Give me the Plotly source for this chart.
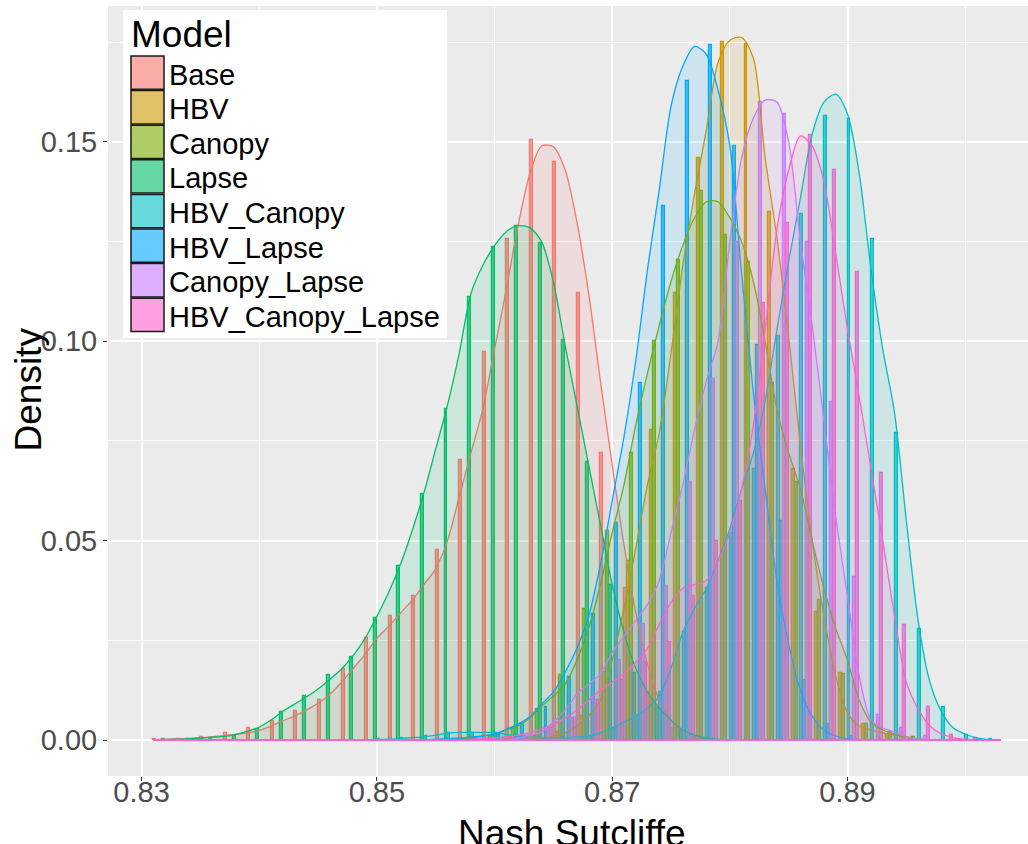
import plotly.graph_objects as go

# ---- data -------------------------------------------------------------
MODELS = ["Base", "HBV", "Canopy", "Lapse", "HBV_Canopy", "HBV_Lapse",
          "Canopy_Lapse", "HBV_Canopy_Lapse"]
COLORS = ["#F8766D", "#CD9600", "#7CAE00", "#00BE67", "#00BFC4", "#00A9FF",
          "#C77CFF", "#FF61CC"]

# histogram bins (width 0.002), centres 0.832 ... 0.902
BIN_WIDTH = 0.002
BIN_CENTERS = [round(0.832 + BIN_WIDTH * i, 3) for i in range(36)]

hist_base = [0.0003, 0.0003, 0.0008, 0.0018, 0.0030, 0.0047, 0.0072, 0.0100, 0.0177, 0.0257,
             0.0311, 0.0360, 0.0477, 0.0703, 0.0974, 0.1257, 0.1505, 0.1450, 0.1120, 0.0719,
             0.0380, 0.0120, 0.0030, 0.0008, 0, 0, 0, 0, 0, 0,
             0, 0, 0, 0, 0, 0]
hist_hbv = [0, 0, 0, 0, 0, 0, 0, 0, 0, 0,
            0, 0, 0, 0, 0, 0.0005, 0.0010, 0.0020, 0.0060, 0.0170,
            0.0450, 0.0778, 0.1120, 0.1460, 0.1750, 0.1745, 0.1325, 0.0680, 0.0320, 0.0168,
            0.0040, 0.0015, 0.0005, 0, 0, 0]
hist_canopy = [0, 0, 0, 0, 0, 0, 0, 0, 0, 0,
               0, 0, 0, 0, 0.0010, 0.0030, 0.0078, 0.0164, 0.0329, 0.0523,
               0.0719, 0.1000, 0.1204, 0.1378, 0.1267, 0.1198, 0.0896, 0.0646, 0.0350, 0.0165,
               0.0040, 0.0020, 0.0008, 0, 0, 0]
hist_lapse = [0.0002, 0.0003, 0.0004, 0.0011, 0.0028, 0.0069, 0.0110, 0.0163, 0.0208, 0.0306,
              0.0437, 0.0616, 0.0830, 0.1110, 0.1236, 0.1289, 0.1247, 0.1004, 0.0697, 0.0390,
              0.0168, 0.0080, 0.0025, 0.0005, 0, 0, 0, 0, 0, 0,
              0, 0, 0, 0, 0, 0]
hist_hbv_canopy = [0, 0, 0, 0, 0, 0, 0, 0, 0, 0.0003,
                   0.0005, 0.0010, 0.0018, 0.0018, 0.0018, 0.0008, 0.0005, 0.0005, 0.0010, 0.0030,
                   0.0060, 0.0120, 0.0270, 0.0380, 0.0520, 0.0680, 0.1014, 0.1320, 0.1564, 0.1558,
                   0.1256, 0.0769, 0.0279, 0.0082, 0.0012, 0.0003]
hist_hbv_lapse = [0, 0, 0, 0, 0, 0, 0, 0, 0, 0,
                  0, 0, 0, 0.0005, 0.0012, 0.0040, 0.0083, 0.0159, 0.0317, 0.0544,
                  0.0896, 0.1340, 0.1653, 0.1743, 0.1490, 0.0990, 0.0550, 0.0150, 0.0040, 0.0010,
                  0, 0, 0, 0, 0, 0]
hist_canopy_lapse = [0, 0, 0, 0, 0, 0, 0, 0, 0, 0,
                     0, 0, 0, 0, 0, 0.0010, 0.0030, 0.0055, 0.0100, 0.0200,
                     0.0290, 0.0386, 0.0646, 0.0906, 0.1250, 0.1600, 0.1570, 0.1250, 0.0848, 0.0410,
                     0.0063, 0.0030, 0.0010, 0, 0, 0]
hist_hbv_canopy_lapse = [0, 0, 0, 0, 0, 0, 0, 0, 0, 0,
                         0, 0, 0, 0, 0.0005, 0.0010, 0.0030, 0.0055, 0.0100, 0.0150,
                         0.0195, 0.0245, 0.0360, 0.0500, 0.0600, 0.1096, 0.1297, 0.1518, 0.1430, 0.1175,
                         0.0670, 0.0289, 0.0084, 0.0012, 0.0005, 0]

# kernel density estimates on a 0.001 grid, 0.831 ... 0.903
DENS_X = [round(0.831 + 0.001 * i, 3) for i in range(73)]

dens_base = [0, 0.0002, 0.0003, 0.0004, 0.0006, 0.0008, 0.0011, 0.0014, 0.0018, 0.0024,
             0.0035, 0.0048, 0.0060, 0.0075, 0.0092, 0.0115, 0.0145, 0.0180, 0.0215, 0.0255,
             0.0285, 0.0318, 0.0350, 0.0390, 0.0430, 0.0500, 0.0610, 0.0720, 0.0830, 0.0980,
             0.1130, 0.1290, 0.1420, 0.1490, 0.1488, 0.1430, 0.1300, 0.1120, 0.0900, 0.0690,
             0.0490, 0.0320, 0.0190, 0.0100, 0.0050, 0.0022, 0.0010, 0.0004, 0.0001, 0,
             0, 0, 0, 0, 0, 0, 0, 0, 0, 0,
             0, 0, 0, 0, 0, 0, 0, 0, 0, 0,
             0, 0, 0]
dens_hbv = [0, 0, 0, 0, 0, 0, 0, 0, 0, 0,
            0, 0, 0, 0, 0, 0, 0, 0, 0, 0,
            0, 0, 0, 0, 0, 0, 0, 0, 0, 0,
            0, 0.0001, 0.0002, 0.0005, 0.0010, 0.0018, 0.0035, 0.0060, 0.0100, 0.0200,
            0.0330, 0.0480, 0.0640, 0.0770, 0.0970, 0.1190, 0.1370, 0.1530, 0.1700, 0.1755,
            0.1762, 0.1710, 0.1460, 0.1260, 0.1010, 0.0740, 0.0500, 0.0310, 0.0160, 0.0068,
            0.0035, 0.0025, 0.0018, 0.0012, 0.0006, 0.0002, 0, 0, 0, 0,
            0, 0, 0]
dens_canopy = [0, 0, 0, 0, 0, 0, 0, 0, 0, 0,
               0, 0, 0, 0, 0, 0, 0, 0, 0, 0,
               0, 0, 0, 0, 0, 0, 0.0002, 0.0005, 0.0010, 0.0015,
               0.0025, 0.0035, 0.0055, 0.0085, 0.0110, 0.0140, 0.0200, 0.0280, 0.0390, 0.0520,
               0.0640, 0.0790, 0.0920, 0.1040, 0.1150, 0.1240, 0.1310, 0.1350, 0.1350, 0.1310,
               0.1250, 0.1150, 0.1000, 0.0830, 0.0720, 0.0630, 0.0500, 0.0380, 0.0280, 0.0200,
               0.0100, 0.0045, 0.0025, 0.0015, 0.0008, 0.0003, 0, 0, 0, 0,
               0, 0, 0]
dens_lapse = [0, 0.0001, 0.0002, 0.0003, 0.0005, 0.0007, 0.0009, 0.0014, 0.0022, 0.0032,
              0.0050, 0.0072, 0.0090, 0.0108, 0.0128, 0.0152, 0.0178, 0.0212, 0.0255, 0.0310,
              0.0370, 0.0440, 0.0525, 0.0620, 0.0730, 0.0840, 0.0970, 0.1120, 0.1190, 0.1240,
              0.1275, 0.1290, 0.1285, 0.1250, 0.1150, 0.0990, 0.0840, 0.0690, 0.0540, 0.0390,
              0.0270, 0.0180, 0.0120, 0.0080, 0.0050, 0.0025, 0.0012, 0.0005, 0.0002, 0,
              0, 0, 0, 0, 0, 0, 0, 0, 0, 0,
              0, 0, 0, 0, 0, 0, 0, 0, 0, 0,
              0, 0, 0]
dens_hbv_canopy = [0, 0, 0, 0, 0, 0, 0, 0, 0, 0,
                   0, 0, 0, 0, 0, 0, 0, 0, 0, 0.0001,
                   0.0002, 0.0004, 0.0006, 0.0008, 0.0012, 0.0017, 0.0019, 0.0019, 0.0019, 0.0019,
                   0.0014, 0.0010, 0.0007, 0.0006, 0.0006, 0.0006, 0.0008, 0.0010, 0.0018, 0.0030,
                   0.0045, 0.0060, 0.0080, 0.0110, 0.0180, 0.0270, 0.0330, 0.0380, 0.0450, 0.0530,
                   0.0630, 0.0720, 0.0850, 0.1030, 0.1200, 0.1360, 0.1520, 0.1600, 0.1620, 0.1570,
                   0.1420, 0.1180, 0.0980, 0.0820, 0.0550, 0.0300, 0.0145, 0.0070, 0.0030, 0.0015,
                   0.0005, 0.0001, 0]
dens_hbv_lapse = [0, 0, 0, 0, 0, 0, 0, 0, 0, 0,
                  0, 0, 0, 0, 0, 0, 0, 0, 0, 0,
                  0, 0, 0, 0, 0.0002, 0.0003, 0.0005, 0.0007, 0.0010, 0.0015,
                  0.0027, 0.0040, 0.0058, 0.0090, 0.0120, 0.0170, 0.0230, 0.0310, 0.0440, 0.0600,
                  0.0760, 0.0950, 0.1180, 0.1380, 0.1590, 0.1690, 0.1740, 0.1720, 0.1630, 0.1490,
                  0.1170, 0.0870, 0.0630, 0.0400, 0.0240, 0.0125, 0.0060, 0.0025, 0.0010, 0.0003,
                  0.0001, 0, 0, 0, 0, 0, 0, 0, 0, 0,
                  0, 0, 0]
dens_canopy_lapse = [0, 0, 0, 0, 0, 0, 0, 0, 0, 0,
                     0, 0, 0, 0, 0, 0, 0, 0, 0, 0,
                     0, 0, 0, 0, 0, 0, 0, 0, 0, 0,
                     0, 0.0005, 0.0012, 0.0020, 0.0045, 0.0075, 0.0115, 0.0140, 0.0165, 0.0220,
                     0.0260, 0.0300, 0.0340, 0.0400, 0.0520, 0.0640, 0.0780, 0.0900, 0.1000, 0.1250,
                     0.1460, 0.1560, 0.1605, 0.1600, 0.1500, 0.1250, 0.1040, 0.0800, 0.0560, 0.0360,
                     0.0160, 0.0050, 0.0030, 0.0020, 0.0008, 0.0002, 0, 0, 0, 0,
                     0, 0, 0]
dens_hbv_canopy_lapse = [0, 0, 0, 0, 0, 0, 0, 0, 0, 0,
                         0, 0, 0, 0, 0, 0, 0, 0, 0, 0,
                         0, 0, 0, 0, 0, 0, 0, 0.0002, 0.0003, 0.0005,
                         0.0008, 0.0012, 0.0018, 0.0028, 0.0040, 0.0055, 0.0075, 0.0100, 0.0125, 0.0145,
                         0.0165, 0.0195, 0.0230, 0.0290, 0.0345, 0.0380, 0.0390, 0.0400, 0.0450, 0.0520,
                         0.0630, 0.0790, 0.1030, 0.1280, 0.1430, 0.1515, 0.1490, 0.1400, 0.1220, 0.1030,
                         0.0860, 0.0680, 0.0500, 0.0310, 0.0145, 0.0078, 0.0035, 0.0015, 0.0006, 0.0002,
                         0, 0, 0]

HISTS = [hist_base, hist_hbv, hist_canopy, hist_lapse, hist_hbv_canopy,
         hist_hbv_lapse, hist_canopy_lapse, hist_hbv_canopy_lapse]
DENSITIES = [dens_base, dens_hbv, dens_canopy, dens_lapse, dens_hbv_canopy,
             dens_hbv_lapse, dens_canopy_lapse, dens_hbv_canopy_lapse]

X_TICKS = [0.83, 0.85, 0.87, 0.89]
Y_TICKS = [0.00, 0.05, 0.10, 0.15]


def rgba(hex_color, alpha):
    h = hex_color.lstrip("#")
    r, g, b = int(h[0:2], 16), int(h[2:4], 16), int(h[4:6], 16)
    return f"rgba({r},{g},{b},{alpha})"


FONT = "Liberation Sans, Arial, sans-serif"
fig = go.Figure()

# dodged histogram bars: eight slots per bin
slot = BIN_WIDTH / len(MODELS)
for k, (name, col, vals) in enumerate(zip(MODELS, COLORS, HISTS)):
    xs = [c for c, v in zip(BIN_CENTERS, vals) if v > 0]
    ys = [v for v in vals if v > 0]
    fig.add_trace(go.Bar(
        x=xs, y=ys, width=slot, offset=-BIN_WIDTH / 2 + k * slot,
        marker=dict(color=rgba(col, 0.7), line=dict(color=col, width=1.2)),
        name=name, showlegend=False, hoverinfo="skip"))

# density curves with translucent fill and baseline outline
for name, col, dens in zip(MODELS, COLORS, DENSITIES):
    fig.add_trace(go.Scatter(
        x=DENS_X, y=dens, mode="lines",
        line=dict(color=col, width=1.3, shape="spline", smoothing=0.8),
        fill="tozeroy", fillcolor=rgba(col, 0.12),
        showlegend=False, hoverinfo="skip"))
    fig.add_trace(go.Scatter(
        x=[DENS_X[0], DENS_X[-1]], y=[0, 0], mode="lines",
        line=dict(color=col, width=1.3), showlegend=False, hoverinfo="skip"))

# ---- layout -------------------------------------------------------------
L, T, W, H = 108, 6, 1028, 844
B = 776
PW, PH = W - L, B - T


def px_x(p):
    return (p - L) / PW


def px_y(p):
    return (B - p) / PH


fig.update_layout(
    width=W, height=H,
    margin=dict(l=L, r=0, t=T, b=H - B, pad=0),
    paper_bgcolor="white", plot_bgcolor="#EBEBEB",
    barmode="overlay", bargap=0,
    font=dict(family=FONT),
    xaxis=dict(range=[0.82715, 0.90534], tickmode="array", tickvals=X_TICKS,
               ticktext=[f"{v:.2f}" for v in X_TICKS],
               showgrid=True, gridcolor="white", gridwidth=1.6,
               minor=dict(tickmode="linear", tick0=0.84, dtick=0.02, showgrid=True,
                          gridcolor="white", gridwidth=0.8, ticklen=0),
               ticks="outside", ticklen=4, tickwidth=1, tickcolor="#333333",
               ticklabelstandoff=-14,
               tickfont=dict(size=29, color="#4D4D4D", family=FONT),
               zeroline=False, showline=False),
    yaxis=dict(range=[-0.00903, 0.1841], tickmode="array", tickvals=Y_TICKS,
               ticktext=[f"{v:.2f}" for v in Y_TICKS],
               showgrid=True, gridcolor="white", gridwidth=1.6,
               minor=dict(tickmode="linear", tick0=0.025, dtick=0.05, showgrid=True,
                          gridcolor="white", gridwidth=0.8, ticklen=0),
               ticks="outside", ticklen=4, tickwidth=1, tickcolor="#333333",
               tickfont=dict(size=29, color="#4D4D4D", family=FONT),
               zeroline=False, showline=False),
)

shapes = []
annotations = []

# axis titles
annotations.append(dict(text="Nash Sutcliffe", xref="paper", yref="paper",
                        x=px_x(572), y=px_y(833), xanchor="center", yanchor="middle",
                        showarrow=False, font=dict(size=37, color="black", family=FONT)))
annotations.append(dict(text="Density", xref="paper", yref="paper",
                        x=px_x(27.5), y=px_y(390), xanchor="center", yanchor="middle",
                        textangle=-90, showarrow=False,
                        font=dict(size=37, color="black", family=FONT)))

# legend box
shapes.append(dict(type="rect", xref="paper", yref="paper",
                   x0=px_x(123), x1=px_x(447), y0=px_y(338), y1=px_y(10),
                   fillcolor="white", line=dict(width=0), layer="above"))
annotations.append(dict(text="Model", xref="paper", yref="paper",
                        x=px_x(129), y=px_y(35), xanchor="left", yanchor="middle",
                        showarrow=False, font=dict(size=37, color="black", family=FONT)))
key_top, key_h, key_pitch = 56.0, 33.3, 34.6
for i, (name, col) in enumerate(zip(MODELS, COLORS)):
    y0 = key_top + i * key_pitch
    shapes.append(dict(type="rect", xref="paper", yref="paper",
                       x0=px_x(131), x1=px_x(164), y0=px_y(y0 + key_h), y1=px_y(y0),
                       fillcolor=rgba(col, 0.6), line=dict(color="#1A1A1A", width=1.5),
                       layer="above"))
    annotations.append(dict(text=name, xref="paper", yref="paper",
                            x=px_x(167), y=px_y(y0 + key_h / 2 + 2),
                            xanchor="left", yanchor="middle", showarrow=False,
                            font=dict(size=29, color="black", family=FONT)))

fig.update_layout(shapes=shapes, annotations=annotations)
fig.write_html("out.html")
